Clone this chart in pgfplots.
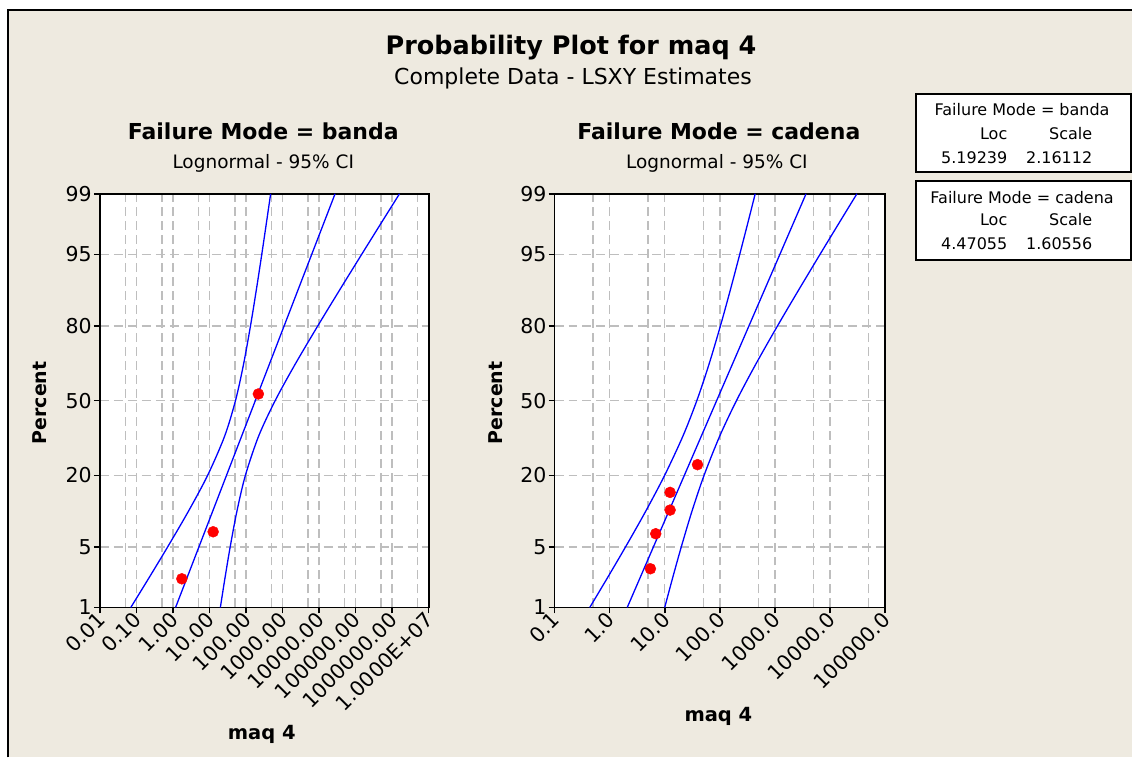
\documentclass[border=0pt]{standalone}
\usepackage{fontspec}
\setmainfont{DejaVu Sans}
\usepackage{pgfplots}
\pgfplotsset{compat=1.18}
\definecolor{bg}{RGB}{238,234,224}
\definecolor{gridgray}{RGB}{190,190,190}
\newcommand{\fs}[1]{\fontsize{#1}{#1}\selectfont}
\pgfplotsset{
  fitline/.style={blue, line width=1.3pt, no marks},
  ciline/.style={blue, line width=1.3pt, no marks, smooth, tension=0.5},
  pts/.style={only marks, mark=*, mark size=5.5pt, red, mark options={draw=red, fill=red}},
  probstyle/.style={
  scale only axis, height=414pt,
  ymin=-2.3263, ymax=2.3263,
  axis background/.style={fill=white},
  axis line style={line width=1.8pt, black},
  tick align=outside, major tick length=6pt, minor tick length=0pt,
  tick style={line width=1.5pt, black},
  xtick pos=bottom, ytick pos=left,
  ytick={-2.3263,-1.6449,-0.8416,0,0.8416,1.6449,2.3263},
  yticklabels={1,5,20,50,80,95,99},
  grid=both,
  major grid style={gridgray, line width=1.4pt, dash pattern=on 9pt off 5pt},
  minor grid style={gridgray, line width=1.4pt, dash pattern=on 9pt off 5pt},
  ticklabel style={font=\fs{20.5}},
  yticklabel style={inner sep=2pt},
  xticklabel style={rotate=45, anchor=east, inner sep=1pt, yshift=-3pt},
}}
\begin{document}
\begin{tikzpicture}[x=1pt,y=1pt]
\fill[white] (0,0) rectangle (1133,758);
\fill[bg] (8,0) rectangle (1133,748);
\draw[line width=2pt] (7.7,0) -- (7.7,748) -- (1133,748);
\useasboundingbox (0,0) rectangle (1133,758);

% ---------- left panel: banda ----------
\begin{axis}[xmode=log, probstyle, width=329pt, at={(100pt,150pt)}, anchor=south west,
  xmin=0.01, xmax=1e7,
  xtick={0.01,0.1,1,10,100,1000,10000,100000,1000000,10000000},
  xticklabels={0.01,0.10,1.00,10.00,100.00,1000.00,10000.00,100000.00,1000000.00,1.0000E+07},
  minor xtick={0.05,0.5,5,50,500,5000,50000,500000,5000000}]
\addplot[ciline] coordinates {(0.07008,-2.3263) (0.2156,-2) (0.7166,-1.6449) (2.604,-1.25) (8.873,-0.8416) (25.98,-0.4) (51.5,0) (84.8,0.4) (132.8,0.8416) (192.5,1.25) (270.1,1.6449) (362.4,2) (472.4,2.3263)};
\addplot[fitline] coordinates {(1.1793,-2.3263) (27447,2.3263)};
\addplot[ciline] coordinates {(19.85,-2.3263) (26.45,-2) (36.90,-1.6449) (55.98,-1.25) (96.0,-0.8416) (221.1,-0.4) (628.4,0) (2149,0.4) (9260,0.8416) (37330,1.25) (146700,1.6449) (507100,2) (1594000,2.3263)};
\addplot[pts] coordinates {(1.75,-2.004) (12.6,-1.475) (218,0.075)};
\end{axis}

% ---------- right panel: cadena ----------
\begin{axis}[xmode=log, probstyle, width=331pt, at={(555pt,150pt)}, anchor=south west,
  xmin=0.1, xmax=1e5,
  xtick={0.1,1,10,100,1000,10000,100000},
  xticklabels={0.1,1.0,10.0,100.0,1000.0,10000.0,100000.0},
  minor xtick={0.5,5,50,500,5000,50000}]
\addplot[ciline] coordinates {(0.4358,-2.3263) (0.8986,-2) (1.9455,-1.6449) (4.458,-1.25) (9.93,-0.8416) (21.32,-0.4) (38.19,0) (62.85,0.4) (102.4,0.8416) (155.6,1.25) (229.2,1.6449) (321.9,2) (437.6,2.3263)};
\addplot[fitline] coordinates {(2.0866,-2.3263) (3660.6,2.3263)};
\addplot[ciline] coordinates {(9.987,-2.3263) (13.81,-2) (19.96,-1.6449) (30.95,-1.25) (51.58,-0.8416) (99.18,-0.4) (200.0,0) (439.2,0.4) (1113,0.8416) (2719,1.25) (6557,1.6449) (14600,2) (30630,2.3263)};
\addplot[pts] coordinates {(5.49,-1.891) (6.86,-1.497) (12.5,-1.231) (12.5,-1.032) (39.3,-0.720)};
\end{axis}

% ---------- titles ----------
\node[anchor=base, font=\bfseries\fs{25.5}] at (571.5,703) {Probability Plot for maq 4};
\node[anchor=base, font=\fs{22}] at (573.5,673) {Complete Data - LSXY Estimates};
\node[anchor=base, font=\bfseries\fs{22}] at (263.5,618) {Failure Mode = banda};
\node[anchor=base, font=\fs{18.5}] at (263.5,589.7) {Lognormal - 95\% CI};
\node[anchor=base, font=\bfseries\fs{22}] at (719.5,618) {Failure Mode = cadena};
\node[anchor=base, font=\fs{18.5}] at (717.5,589.7) {Lognormal - 95\% CI};
% axis labels
\node[anchor=base, rotate=90, font=\bfseries\fs{19}] at (46.7,354.7) {Percent};
\node[anchor=base, rotate=90, font=\bfseries\fs{19}] at (503,354.7) {Percent};
\node[anchor=base, font=\bfseries\fs{19.5}] at (262,18) {maq 4};
\node[anchor=base, font=\bfseries\fs{19.5}] at (719,36.3) {maq 4};
% parameter boxes
\draw[line width=1.8pt, fill=white] (917,664) rectangle (1132,586);
\draw[line width=1.8pt, fill=white] (917,577) rectangle (1132,498);
\begin{scope}[font=\fs{16}]
\node[anchor=base] at (1023,642) {Failure Mode = banda};
\node[anchor=base east] at (1011.7,618.7) {Loc};
\node[anchor=base east] at (1096.7,618.7) {Scale};
\node[anchor=base east] at (1011.7,594.7) {5.19239};
\node[anchor=base east] at (1096.7,594.7) {2.16112};
\node[anchor=base] at (1023,554.7) {Failure Mode = cadena};
\node[anchor=base east] at (1011.7,532) {Loc};
\node[anchor=base east] at (1096.7,532) {Scale};
\node[anchor=base east] at (1011.7,508.7) {4.47055};
\node[anchor=base east] at (1096.7,508.7) {1.60556};
\end{scope}
\end{tikzpicture}
\end{document}
